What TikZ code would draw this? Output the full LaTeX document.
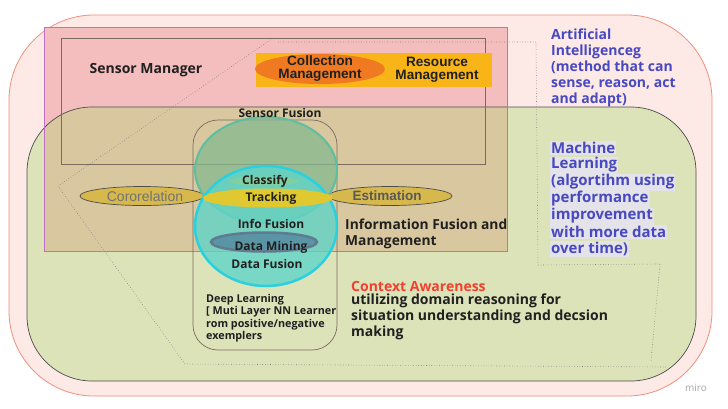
\documentclass[tikz,border=0pt]{standalone}
\usepackage{fontspec}
\setmainfont{Open Sans}
\newfontfamily\arialf{Liberation Sans}
\usetikzlibrary{shapes.geometric}
\definecolor{outerfill}{HTML}{FDE9E6}
\definecolor{outerline}{HTML}{F0907C}
\definecolor{greenfill}{HTML}{DDE3B9}
\definecolor{pinkfill}{HTML}{F4BDBE}
\definecolor{purpleline}{HTML}{C070C8}
\definecolor{tanfill}{HTML}{D9C89F}
\definecolor{boxline}{HTML}{7A6A60}
\definecolor{goldfill}{HTML}{F9B518}
\definecolor{orangefill}{HTML}{F07A22}
\definecolor{sfline}{HTML}{5CBFA0}
\definecolor{sffill}{HTML}{86B890}
\definecolor{cyanline}{HTML}{28D0E0}
\definecolor{cyanfill}{HTML}{60D4C8}
\definecolor{trackfill}{HTML}{E0C830}
\definecolor{classfill}{HTML}{80D0A0}
\definecolor{corfill}{HTML}{D6B84C}
\definecolor{dmfill}{HTML}{5A95A5}
\definecolor{dmline}{HTML}{607A90}
\definecolor{aiblue}{HTML}{4848C0}
\definecolor{hlgrey}{HTML}{E3E3E9}
\definecolor{ctxred}{HTML}{F04030}
\definecolor{txtdark}{HTML}{202020}
\tikzset{
  bluetxt/.style={text=aiblue, font=\bfseries\fontsize{14}{15.8}\selectfont, anchor=north west, align=left, inner sep=0pt},
  mlline/.style={text=aiblue, font=\bfseries\fontsize{15}{16}\selectfont, anchor=west, fill=hlgrey, inner sep=1pt},
  venntxt/.style={text=txtdark, font=\bfseries\fontsize{12}{13}\selectfont, inner sep=0pt},
  elly/.style={ellipse, inner sep=0pt},
  dotline/.style={draw=gray, dotted, line width=0.6pt}
}
\begin{document}
\begin{tikzpicture}[x=1pt,y=-1pt]
\path[use as bounding box, fill=white] (0,0) rectangle (728,408);
% outer AI region
\draw[fill=outerfill, draw=outerline, line width=0.8pt, rounded corners=85pt] (9,15) rectangle (712,396);
% ML green region
\fill[greenfill, rounded corners=65pt] (27,107) rectangle (696,381);
% purple / pink region
\fill[pinkfill] (44,27) rectangle (507,251);
\begin{scope}
  \clip (44,27) rectangle (507,251);
  \fill[tanfill, rounded corners=65pt] (27,107) rectangle (696,381);
\end{scope}
\draw[draw=black!70, line width=0.7pt, rounded corners=65pt] (27,107) rectangle (696,381);
\draw[draw=purpleline, line width=0.8pt] (44,27) rectangle (507,251);
% sensor manager box
\draw[draw=boxline, line width=0.7pt] (61,38) rectangle (485,164);
\node[font=\bfseries\fontsize{14}{15}\selectfont, text=txtdark, inner sep=0pt] (sm) at (146,70) {Sensor Manager};
% collection / resource
\node[fill=goldfill, minimum width=236pt, minimum height=34pt, inner sep=0pt, anchor=north west] (gold) at (256,53) {};
\node[elly, fill=orangefill, minimum width=130pt, minimum height=30pt] (collell) at (320,69) {};
\node[font=\arialf\bfseries\fontsize{13.6}{13}\selectfont, align=center, text=txtdark, inner sep=0pt] (coll) at (320,69) {Collection\\Management};
\node[font=\arialf\bfseries\fontsize{13.6}{13}\selectfont, align=center, text=txtdark, inner sep=0pt] (res) at (437,70) {Resource\\Management};
% sensor fusion rounded box
\draw[draw=boxline, line width=0.7pt, rounded corners=25pt] (193,120) rectangle (337,350);
% correlation and estimation ellipses
\node[elly, fill=corfill, draw=black!70, line width=0.7pt, minimum width=124pt, minimum height=19pt] (corell) at (142,196) {};
\node[elly, fill=corfill, draw=black!70, line width=0.7pt, minimum width=124pt, minimum height=19pt] (estell) at (390,196) {};
\node[font=\arialf\fontsize{14}{15}\selectfont, text=black!55, inner sep=0pt] (cor) at (145,196) {Cororelation};
\node[font=\arialf\bfseries\fontsize{13.5}{15}\selectfont, text=black!65, inner sep=0pt] (est) at (387,196) {Estimation};
% circles
\node[elly, fill=sffill, fill opacity=0.75, draw=sfline, line width=2pt, minimum width=142pt, minimum height=106pt] (topc) at (266,170) {};
\node[elly, fill=cyanfill, fill opacity=0.8, draw=cyanline, line width=2.5pt, minimum width=142pt, minimum height=120pt] (botc) at (266,226) {};
\node[elly, fill=classfill, minimum width=70pt, minimum height=9pt] (classell) at (264,181) {};
\node[elly, fill=trackfill, minimum width=130pt, minimum height=19pt] (trackell) at (268,198) {};
\node[elly, fill=dmfill, draw=dmline, line width=2.5pt, minimum width=106pt, minimum height=19pt] (dmell) at (264,242) {};
\node[venntxt] (sflabel) at (280,113) {Sensor Fusion};
\node[venntxt] (classify) at (265,181) {Classify};
\node[venntxt] (tracking) at (271,198) {Tracking};
\node[venntxt] (info) at (271,224) {Info Fusion};
\node[venntxt] (dm) at (271,247) {Data Mining};
\node[venntxt] (df) at (267,264) {Data Fusion};
% info fusion and management label
\node[font=\bfseries\fontsize{13.8}{16}\selectfont, text=txtdark, anchor=north west, align=left, inner sep=0pt] (ifm) at (345,219) {Information Fusion and\\Management};
% deep learning text
\node[font=\bfseries\fontsize{10.8}{12.3}\selectfont, text=txtdark, anchor=north west, align=left, inner sep=0pt] (dl) at (206,294) {Deep Learning\\{[} Muti Layer NN Learner\\rom positive/negative\\exemplers};
% context awareness
\node[font=\bfseries\fontsize{14}{15}\selectfont, text=ctxred, anchor=west, inner sep=0pt] (ctx) at (351,286) {Context Awareness};
\node[font=\bfseries\fontsize{14}{16}\selectfont, text=txtdark, anchor=north west, align=left, inner sep=0pt] (ctxt) at (351,294) {utilizing domain reasoning for\\situation understanding and decsion\\making};
% AI text
\node[bluetxt] (ai) at (551,29) {Artificial\\Intelligenceg\\(method that can\\sense, reason, act\\and adapt)};
% ML text
\node[mlline] (ml1) at (550,148) {Machine};
\node[mlline] (ml2) at (550,165) {Learning};
\node[mlline] (ml3) at (550,182) {(algortihm using};
\node[mlline] (ml4) at (550,199) {performance};
\node[mlline] (ml5) at (550,216) {improvement};
\node[mlline] (ml6) at (550,232) {with more data};
\node[mlline] (ml7) at (550,249) {over time)};
% dotted outline
\coordinate (d1) at (273,38);
\coordinate (d2) at (536,42);
\coordinate (d3) at (538,265);
\coordinate (d4) at (660,264);
\coordinate (d5) at (651,361);
\coordinate (d6) at (666,367);
\coordinate (d7) at (185,364);
\coordinate (d8) at (58,186);
\draw[dotline] (278,42) -- (d2) -- (d3) -- (d4) -- (d5);
\draw[dotline] (d6) -- (d7) -- (d8) -- (d1);
% watermark
\node[font=\fontsize{10}{11}\selectfont, text=black!35, inner sep=0pt] (miro) at (696,388) {miro};
\end{tikzpicture}
\end{document}
